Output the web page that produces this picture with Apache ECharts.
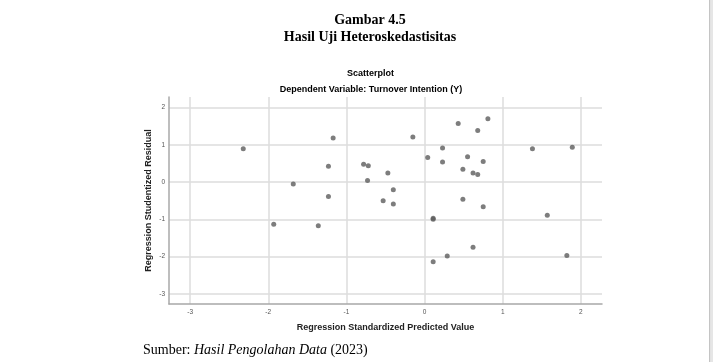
<!DOCTYPE html>
<html><head><meta charset="utf-8">
<script src="https://cdn.jsdelivr.net/npm/echarts@6/dist/echarts.min.js"></script>
<style>html,body{margin:0;padding:0;background:#fff}#c{width:713px;height:362px}</style>
</head><body><div id="c"></div>
<script>
const predicted = [-2.32,-1.17,-1.23,-1.68,-1.23,-0.78,-0.72,-0.73,
  -0.47,-0.15,-0.40,-0.53,-0.40,0.43,0.81,0.68,0.23,0.04,0.23,0.55,0.75,0.49,0.62,0.68,0.49,0.75,1.38,1.89,
  1.57,0.11,0.11,0.62,0.29,0.11,1.82,-1.93,-1.36];
const residual = [0.89,1.18,0.42,-0.05,-0.39,0.48,0.44,0.04,
  0.24,1.21,-0.21,-0.50,-0.59,1.57,1.70,1.38,0.91,0.66,0.54,0.68,0.55,0.34,0.24,0.20,-0.46,-0.66,0.89,0.93,
  -0.89,-0.97,-1.00,-1.75,-1.98,-2.14,-1.97,-1.13,-1.17];
const xTicks = [-3,-2,-1,0,1,2];
const yTicks = [-3,-2,-1,0,1,2];

const chart = echarts.init(document.getElementById('c'), null, {renderer:'canvas'});
const sans = 'Liberation Sans, Arial, sans-serif';
const serif = 'Liberation Serif, Times New Roman, serif';
const axisCommon = (ticks) => ({
  type:'value',
  axisLine:{show:true, onZero:false, lineStyle:{color:'#a8a8a8', width:1.5}},
  axisTick:{show:false, customValues:ticks},
  splitLine:{show:true, lineStyle:{color:'#dcdcdc', width:1.5}},
  nameTextStyle:{fontFamily:sans, fontWeight:'bold', fontSize:9, color:'#222'},
  nameLocation:'middle'
});
function txt(x, y, text, font, extra){
  return Object.assign({type:'text', x:x, y:y, style:{text:text, font:font, fill:'#000', align:'center', verticalAlign:'middle'}}, extra||{});
}
chart.setOption({
  animation:false,
  backgroundColor:'#fff',
  grid:{left:169, right:111, top:97, bottom:58, containLabel:false},
  xAxis:Object.assign(axisCommon(xTicks), {min:-3.27, max:2.27, name:'Regression Standardized Predicted Value', nameGap:19,
    axisLabel:{customValues:xTicks, color:'#555', fontSize:6.5, fontFamily:sans, margin:5}}),
  yAxis:Object.assign(axisCommon(yTicks), {min:-3.27, max:2.28,
    axisLabel:{customValues:yTicks, color:'#555', fontSize:6.5, fontFamily:sans, margin:4}}),
  series:[{type:'scatter', symbolSize:5, itemStyle:{color:'#5c5c5c'},
    data: predicted.map((x,i)=>[x, residual[i]])}],
  graphic:[
    txt(370, 20, 'Gambar 4.5', 'bold 14px ' + serif),
    txt(370, 37.5, 'Hasil Uji Heteroskedastisitas', 'bold 14px ' + serif),
    txt(370.5, 74, 'Scatterplot', 'bold 9px ' + sans),
    txt(371, 90, 'Dependent Variable: Turnover Intention (Y)', 'bold 9px ' + sans),
    {type:'text', x:148.5, y:200.5, rotation:Math.PI/2, style:{text:'Regression Studentized Residual', font:'bold 9px ' + sans, fill:'#222', align:'center', verticalAlign:'middle'}},
    {type:'text', x:143, y:350, style:{
      text:'{a|Sumber: }{b|Hasil Pengolahan Data}{a| (2023)}', align:'left', verticalAlign:'middle',
      rich:{a:{fontFamily:serif, fontSize:14, fontWeight:'normal', fill:'#000'},
            b:{fontFamily:serif, fontSize:14, fontWeight:'normal', fontStyle:'italic', fill:'#000'}}}},
    {type:'rect', shape:{x:709, y:0, width:1.5, height:362}, style:{fill:'#c4c4c4'}},
    {type:'rect', shape:{x:710.5, y:0, width:2.5, height:362}, style:{fill:'#e6e6e6'}}
  ]
});
</script></body></html>
